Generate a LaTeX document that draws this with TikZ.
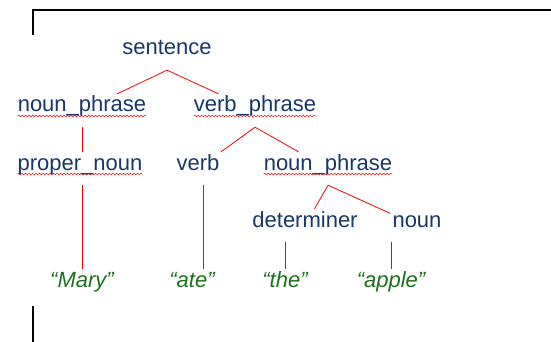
\documentclass[tikz,border=0pt]{standalone}
\usepackage{fontspec}
\setmainfont{Liberation Sans}
\usetikzlibrary{decorations.pathmorphing}

\definecolor{wordblue}{RGB}{24,55,102}
\definecolor{wordgreen}{RGB}{30,112,30}

\tikzset{
  cat/.style={text=wordblue,inner sep=2pt,text height=16pt,text depth=13pt,font=\fontsize{22}{26}\selectfont},
  leaf/.style={cat,text=wordgreen,font=\fontsize{22}{26}\selectfont\itshape},
  branch/.style={red,line width=0.8pt},
  squiggle/.style={red,line width=0.5pt,decorate,decoration={snake,amplitude=0.8pt,segment length=3.5pt}}
}

\begin{document}
\begin{tikzpicture}[x=1pt,y=-1pt]
\useasboundingbox (0,0) rectangle (551,342);

% frame edges
\draw [line width=1.6pt] (33,35) |- (552,10);
\draw [line width=1.6pt] (33,306) -- (33,343);

\node (s)   at (167,55)  [cat,anchor=base] {sentence};
\node (np)  at (82,112)  [cat,anchor=base] {noun\_phrase};
\node (vp)  at (255,112) [cat,anchor=base] {verb\_phrase};
\node (pn)  at (80,170)  [cat,anchor=base] {proper\_noun};
\node (v)   at (198,170) [cat,anchor=base] {verb};
\node (np2) at (328,170) [cat,anchor=base] {noun\_phrase};
\node (det) at (305,227) [cat,anchor=base] {determiner};
\node (n)   at (417,227) [cat,anchor=base] {noun};
\node (w1)  at (82,287)  [leaf,anchor=base] {“Mary”};
\node (w2)  at (192,287) [leaf,anchor=base] {“ate”};
\node (w3)  at (285,287) [leaf,anchor=base] {“the”};
\node (w4)  at (391,287) [leaf,anchor=base] {“apple”};

\draw [branch] (s.south) -- (np);
\draw [branch] (s.south) -- (vp);
\draw [branch] (np.south) -- (np.south |- pn.north);
\draw [branch] (vp.south) -- (v);
\draw [branch] (vp.south) -- (np2);
\draw [branch] (np2.south) -- (det);
\draw [branch] (np2.south) -- (n);
\draw [branch] (w1.north) -- (w1.north |- pn.south);
\draw [branch] ([xshift=5pt]v.south) -- ([xshift=5pt]v.south |- w2.north);
\draw [branch] (w3.north) -- (w3.north |- det.south);
\draw [branch] (w4.north) -- (w4.north |- n.south);

% spelling marks under the compound names
\foreach \nd in {np,vp,pn,np2}
  \draw [squiggle] ([xshift=2pt,yshift=-4pt]\nd.base west) -- ([xshift=-2pt,yshift=-4pt]\nd.base east);

\end{tikzpicture}
\end{document}
